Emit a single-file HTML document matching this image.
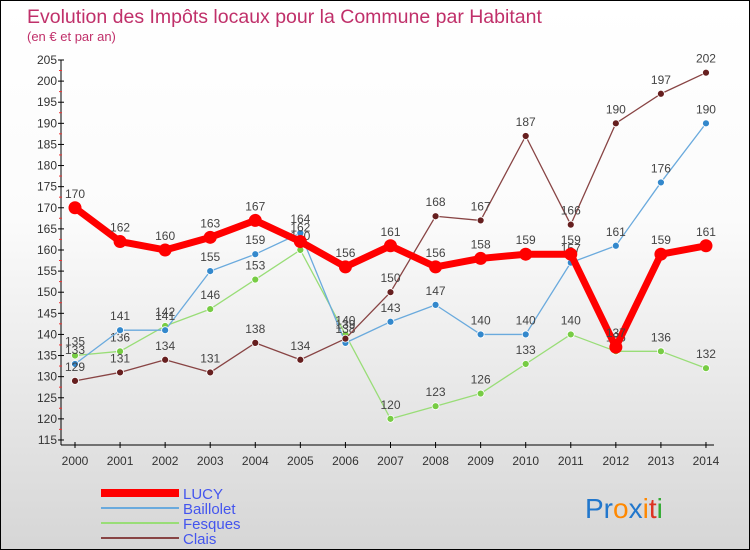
<!DOCTYPE html>
<html><head><meta charset="utf-8"><style>
body{margin:0}
#c{width:748px;height:548px;border:1px solid #000;background:linear-gradient(#fff,#fbfbfb 40%,#d6d6d6);position:relative;font-family:"Liberation Sans",sans-serif;overflow:hidden}
</style></head><body>
<div id="c">
<svg id="s" width="748" height="548"></svg>
</div>
<script>
const years=[2000,2001,2002,2003,2004,2005,2006,2007,2008,2009,2010,2011,2012,2013,2014];
const lucy=[170,162,160,163,167,162,156,161,156,158,159,159,137,159,161];
const baillolet=[133,141,141,155,159,164,138,143,147,140,140,157,161,176,190];
const fesques=[135,136,142,146,153,160,140,120,123,126,133,140,136,136,132];
const clais=[129,131,134,131,138,134,139,150,168,167,187,166,190,197,202];
const yTicks=[115,120,125,130,135,140,145,150,155,160,165,170,175,180,185,190,195,200,205];
const NS="http://www.w3.org/2000/svg";
const s=document.getElementById('s');
const X=i=>74+i*45.07;
const Y=v=>59+(205-v)*4.222;
function el(t,a,p){const e=document.createElementNS(NS,t);for(const k in a)e.setAttribute(k,a[k]);(p||s).appendChild(e);return e;}
function txt(x,y,t,a){const e=el('text',Object.assign({x:x,y:y},a));e.textContent=t;return e;}
let e=txt(26,22,"Evolution des Impôts locaux pour la Commune par Habitant",{fill:"#c0306a","font-size":19.5});

e=txt(26,40,"(en € et par an)",{fill:"#c0306a","font-size":13});

e=el('line',{x1:60,y1:Y(205),x2:60,y2:444,stroke:"#000"});

e=el('line',{x1:60,y1:444,x2:X(14)+8,y2:444,stroke:"#000"});

yTicks.forEach(v=>{el('line',{x1:57,y1:Y(v),x2:63,y2:Y(v),stroke:"#000"});
 if(v>115)el('line',{x1:58,y1:Y(v)+10.5,x2:61,y2:Y(v)+10.5,stroke:"#e33"});
 const t=txt(56,Y(v)+4,v,{"text-anchor":"end","font-size":12,fill:"#333"});
 });
years.forEach((y,i)=>{el('line',{x1:X(i),y1:441,x2:X(i),y2:447,stroke:"#000"});
 const t=txt(X(i),464,y,{"text-anchor":"middle","font-size":12,fill:"#333"});
 });
function series(d,col,w,r,name,dot){
 const p=el('polyline',{points:d.map((v,i)=>X(i)+','+Y(v)).join(' '),fill:"none",stroke:col,"stroke-width":w,"stroke-linejoin":"round"});
 
 d.forEach((v,i)=>{const c=el('circle',{cx:X(i),cy:Y(v),r:r,fill:dot,stroke:"#fff","stroke-width":w>4?0:0.8});
  
  const t=txt(X(i),Y(v)-10,v,{"text-anchor":"middle","font-size":12,fill:"#444"});
  });
}
series(fesques,"#99dd77",1.3,3.5,"fesques","#77cc44");
series(baillolet,"#6aaadd",1.3,3.5,"baillolet","#3388cc");
series(clais,"#884444",1.3,3.5,"clais","#661f1f");
series(lucy,"#ff0000",7,6.5,"lucy","#ff0000");
const legend=[["LUCY","#ff0000",8],["Baillolet","#6aaadd",2],["Fesques","#99dd77",2],["Clais","#884444",2]];
legend.forEach((l,i)=>{const y=492+i*15;
 const g=el('g',{});
 el('line',{x1:100,y1:y,x2:178,y2:y,stroke:l[1],"stroke-width":l[2]},g);
 const t=txt(182,y+6,l[0],{"font-size":15,fill:"#4455ee"});g.appendChild(t);});
const lg=el('text',{x:584,y:517,"font-size":28});

[["Pr","#2277cc"],["o","#ff8800"],["x","#2277cc"],["i","#ff8800"],["t","#dd3322"],["i","#33aa33"]].forEach(a=>{const t=el('tspan',{fill:a[1]},lg);t.textContent=a[0];});
</script>
</body></html>
